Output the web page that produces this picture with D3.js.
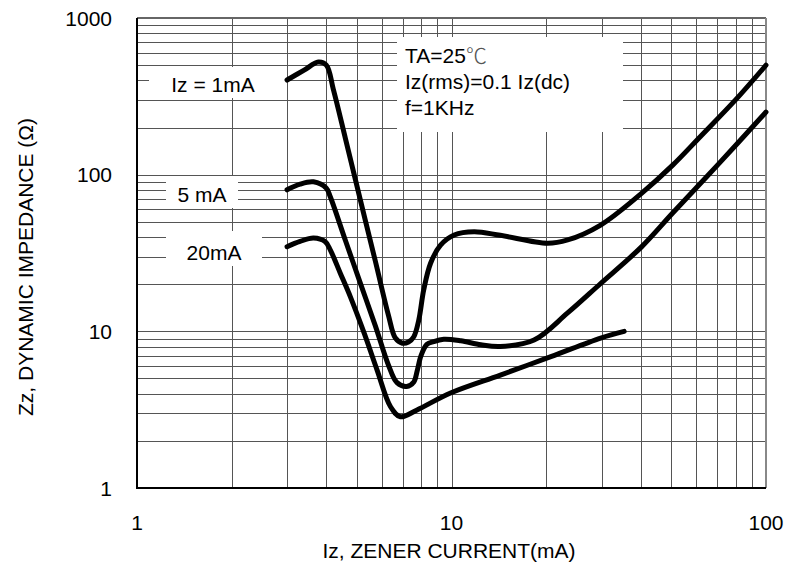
<!DOCTYPE html>
<html>
<head>
<meta charset="utf-8">
<script src="https://cdn.jsdelivr.net/npm/d3@7"></script>
<style>
  body { margin: 0; background: #fff; }
  text { font-family: "Liberation Sans", Arial, sans-serif; fill: #000; }
</style>
</head>
<body>
<div id="chart"></div>
<script>
// values (mA, ohm)
const iz1Current = [3, 3.4, 3.77, 4.0, 4.21, 4.6, 5.13, 5.73, 6.3, 6.63, 6.98, 7.3, 7.59, 7.87, 8.16, 8.58, 9.23, 10.2, 11.8, 14.3, 20.2, 23.4, 29.8, 40.2, 50.5, 62, 80, 100];
const iz1Imped   = [402, 465, 523, 500, 350, 170, 69, 27.9, 12.7, 9.06, 8.4, 8.55, 9.24, 11.8, 18.4, 27.2, 35.5, 41.2, 43.2, 41, 36.5, 38.3, 47.7, 76, 115, 176, 300, 500];

const iz5Current = [3, 3.3, 3.64, 4.0, 4.12, 4.6, 5.13, 5.73, 6.3, 6.71, 7.2, 7.59, 7.78, 8.0, 8.35, 8.77, 9.45, 10.7, 12.4, 14.3, 18.3, 23.4, 29.8, 40.2, 50.5, 70.1, 100];
const iz5Imped   = [80, 87, 90, 82, 72, 38, 20.3, 10.8, 6.1, 4.7, 4.45, 4.75, 5.6, 7.0, 8.25, 8.6, 8.9, 8.7, 8.2, 8.0, 8.8, 13.1, 20.2, 34.6, 56.9, 115, 251];

const iz20Current = [3, 3.3, 3.64, 3.97, 4.12, 4.43, 4.77, 5.28, 5.8, 6.4, 6.88, 7.77, 9.93, 14.3, 20.7, 29.8, 35.4];
const iz20Imped   = [34.7, 37.5, 39.4, 37.3, 33, 23.5, 16.6, 9.7, 5.66, 3.3, 2.85, 3.15, 4.04, 5.26, 6.89, 9.06, 10.0];

const curveLabels = ["Iz = 1mA", "5 mA", "20mA"];
const xTickLabels = ["1", "10", "100"];
const yTickLabels = ["1", "10", "100", "1000"];
const noteLines = ["TA=25", "Iz(rms)=0.1 Iz(dc)", "f=1KHz"];

const width = 789, height = 576;
const margin = { top: 18, right: 23, bottom: 88, left: 137 };

const svg = d3.select("#chart").append("svg")
    .attr("width", width)
    .attr("height", height);

const x = d3.scaleLog().domain([1, 100]).range([margin.left, width - margin.right]);
const y = d3.scaleLog().domain([1, 1000]).range([height - margin.bottom, margin.top]);

// grid
svg.append("g").selectAll("line")
    .data(x.ticks())
    .enter().append("line")
    .attr("x1", d => Math.round(x(d)) + 0.5).attr("x2", d => Math.round(x(d)) + 0.5)
    .attr("y1", y(1000)).attr("y2", y(1))
    .attr("stroke", "#555").attr("stroke-width", 1);

svg.append("g").selectAll("line")
    .data(y.ticks())
    .enter().append("line")
    .attr("y1", d => Math.round(y(d)) + 0.5).attr("y2", d => Math.round(y(d)) + 0.5)
    .attr("x1", x(1)).attr("x2", x(100))
    .attr("stroke", "#555").attr("stroke-width", 1);

// white boxes behind the labels
const boxes = [
    { x: 149, y: 67, w: 136, h: 31 },
    { x: 166, y: 176, w: 72, h: 32 },
    { x: 166, y: 231, w: 96, h: 35 },
    { x: 397, y: 37, w: 226, h: 95 }
];
svg.append("g").selectAll("rect")
    .data(boxes)
    .enter().append("rect")
    .attr("x", d => d.x).attr("y", d => d.y)
    .attr("width", d => d.w).attr("height", d => d.h)
    .attr("fill", "#fff");

// frame
svg.append("line").attr("x1", x(1)).attr("x2", x(100)).attr("y1", y(1000)).attr("y2", y(1000))
    .attr("stroke", "#666").attr("stroke-width", 2);
svg.append("line").attr("x1", x(100)).attr("x2", x(100)).attr("y1", y(1000)).attr("y2", y(1))
    .attr("stroke", "#888").attr("stroke-width", 2);
svg.append("line").attr("x1", x(1)).attr("x2", x(1)).attr("y1", y(1000)).attr("y2", y(1) + 1)
    .attr("stroke", "#000").attr("stroke-width", 2);
svg.append("line").attr("x1", x(1)).attr("x2", x(100)).attr("y1", y(1)).attr("y2", y(1))
    .attr("stroke", "#000").attr("stroke-width", 2);

// tick labels
svg.append("g").selectAll("text")
    .data(xTickLabels)
    .enter().append("text")
    .attr("x", d => x(+d))
    .attr("y", y(1) + 42)
    .attr("text-anchor", "middle")
    .attr("font-size", 21)
    .text(d => d);

svg.append("g").selectAll("text")
    .data(yTickLabels)
    .enter().append("text")
    .attr("x", x(1) - 25)
    .attr("y", d => y(+d) + 7.5)
    .attr("text-anchor", "end")
    .attr("font-size", 21)
    .text(d => d);

// axis titles
svg.append("text")
    .attr("x", 449).attr("y", 558)
    .attr("text-anchor", "middle")
    .attr("font-size", 21)
    .text("Iz, ZENER CURRENT(mA)");

svg.append("text")
    .attr("transform", "translate(33,267) rotate(-90)")
    .attr("text-anchor", "middle")
    .attr("font-size", 21)
    .text("Zz, DYNAMIC IMPEDANCE (Ω)");

// curve labels
const labelPos = [[213, 92], [202, 202], [214, 260]];
svg.append("g").selectAll("text")
    .data(curveLabels)
    .enter().append("text")
    .attr("x", (d, i) => labelPos[i][0])
    .attr("y", (d, i) => labelPos[i][1])
    .attr("text-anchor", "middle")
    .attr("font-size", 21)
    .text(d => d);

// conditions note
const note = svg.append("g").attr("font-size", 21);
noteLines.forEach((t, i) => {
    const tx = note.append("text")
        .attr("x", 405)
        .attr("y", 63 + i * 26)
        .text(t);
    if (i === 0) {
        tx.append("tspan")
            .attr("font-family", "'Noto Sans CJK SC', sans-serif")
            .attr("font-weight", 300)
            .style("fill", "#555")
            .text("℃");
    }
});

// curves
const series = [
    d3.zip(iz1Current, iz1Imped),
    d3.zip(iz5Current, iz5Imped),
    d3.zip(iz20Current, iz20Imped)
];
const line = d3.line()
    .x(d => x(d[0]))
    .y(d => y(d[1]))
    .curve(d3.curveCatmullRom.alpha(0.5));

svg.append("g").selectAll("path")
    .data(series)
    .enter().append("path")
    .attr("d", line)
    .attr("fill", "none")
    .attr("stroke", "#000")
    .attr("stroke-width", 5)
    .attr("stroke-linecap", "round")
    .attr("stroke-linejoin", "round");
</script>
</body>
</html>
